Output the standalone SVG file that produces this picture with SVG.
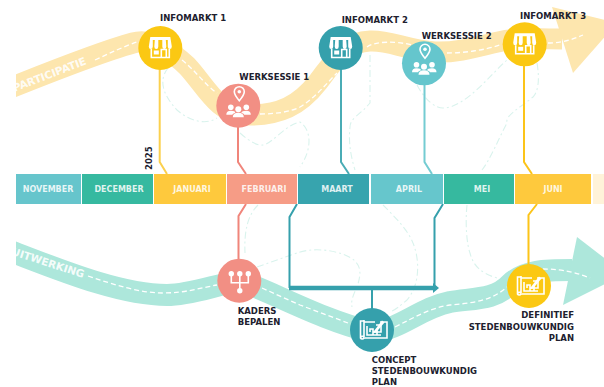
<svg xmlns="http://www.w3.org/2000/svg" xmlns:xlink="http://www.w3.org/1999/xlink" width="604" height="387" viewBox="0 0 604 387">
<style>
text{font-family:"DejaVu Sans",Verdana,sans-serif;font-weight:700}
.lb{font-size:8.5px;fill:#20202e}
.mo{font-size:8px;fill:#fff;fill-opacity:.85;text-anchor:middle}
.rb{font-size:10.5px;fill:#fff;fill-opacity:.9;text-anchor:end}
.bt{fill:none;stroke:#fde6ae;stroke-width:21}
.bb{fill:none;stroke:#ade7db;stroke-width:22}
.da{fill:none;stroke:#fff;stroke-width:1.3;stroke-dasharray:5 3}
.fa{fill:none;stroke:#d9f3ed;stroke-width:1.1;stroke-dasharray:7 3 2 3}
.cn{fill:none;stroke-width:2}
.ic{fill:none;stroke:#fff;stroke-width:1.6}
.if{fill:#fff}
</style>
<defs>
<clipPath id="cl"><rect x="16" y="0" width="588" height="387"/></clipPath>
<g id="store">
<path class="if" d="M-10,-11H10L11.500,-1.500Q11.500,1 9.500,1T7.500,-1.500V-8H5.500L6,-1.500Q6,1 4,1T2,-1.500V-8H-2V-1.500Q-2,1 -4,1T-6,-1.500L-5.500,-8H-7.500V-1.500Q-7.500,1 -9.500,1T-11.500,-1.500Z"/>
<path class="ic" d="M-9,1V9.500H9V1M1,9.500V1.500H6V9.500" stroke-width="2"/>
<rect class="if" x="-6.500" y="2.500" width="5" height="4"/>
</g>
<g id="people">
<path class="ic" stroke-width="1" d="M1,-5Q-4,-11 -4,-14A5,5 0 0 1 6,-14Q6,-11 1,-5Z"/>
<circle class="if" cx="1" cy="-14" r="1.800"/>
<circle class="if" cx="-7.500" cy="1.500" r="2.800"/><circle class="if" cx="8" cy="1.500" r="2.800"/><circle class="if" cx="0" cy="3.500" r="3"/>
<path class="if" d="M-12,9Q-12,5 -7.500,5T-3,7Q-6,8 -6,9ZM12.500,9Q12.500,5 8,5T3,7Q6,8 6,9ZM-5.500,11.500Q-5.500,7 0,7T5.500,11.500Z"/>
</g>
<g id="tree">
<circle class="if" cx="-8" cy="-7" r="2.700"/><circle class="if" cx="0.500" cy="-7" r="2.700"/><circle class="if" cx="9" cy="-7" r="2.700"/><circle class="if" cx="0.500" cy="10" r="2.700"/>
<path class="ic" stroke-width="1.300" d="M-8,-5V2H9V-5M0.500,-5V9"/>
</g>
<g id="plan">
<path class="ic" stroke-width="1.300" d="M-8,-10V7M-8,-9H-11.500V8A2,2 0 0 0 -8,8H15V-8H8M3,-8H-8M-8,7A2,2 0 0 0 -11.500,8"/>
<path class="ic" stroke-width="1.200" d="M-5,-4V5H1V-1H-2V2M1,2H9V-5H4M5,-1V5M9,5H1"/>
<path class="if" d="M2,1L10,-9.500L12.500,-7.500L4,2.500L1.500,3Z"/>
</g>
</defs>

<g id="ribbons" clip-path="url(#cl)">
<path class="bt" d="M10,88C50,72 100,52 133,43C150,38 170,50 187,66C205,85 218,114 245,115C280,116 300,105 318,82C335,60 345,42 370,41C390,40 405,50 435,52C465,53 490,42 510,40C530,38 545,39 562,39"/>
<polygon points="552,7 617,23 573,73" fill="#fde6ae"/>
<path class="bb" d="M10,251C60,270 120,295 167,295C190,295 215,285 239,281C265,288 320,320 372,332C400,330 420,308 450,302C475,298 495,300 510,284C525,270 545,270 572,270"/>
<polygon points="577,237 625,274 563,305" fill="#ade7db"/>
</g>
<g id="route-lines">
<path class="da" d="M95,60C110,53 125,46 137,42"/>
<path class="da" d="M182,60C195,70 205,85 217,93"/>
<path class="da" d="M260,114C275,114 290,112 300,107C315,98 325,85 337,73"/>
<path class="da" d="M367,47C375,41 395,41 413,45"/>
<path class="da" d="M447,53C465,53 485,50 500,45"/>
<path class="da" d="M548,43C560,43 572,40 583,35"/>
<path class="da" d="M88,276C115,285 140,293 163,293C185,293 200,288 217,285"/>
<path class="da" d="M262,288L300,305L348,323"/>
<path class="da" d="M395,327C415,317 430,308 450,305C470,303 490,302 507,287"/>
<path class="da" d="M543,269C555,269 570,270 590,278"/>
<path class="fa" d="M168,68C160,78 160,92 177,110C188,120 205,126 217,118"/>
<path class="fa" d="M240,133C250,142 258,146 263,145C272,144 285,125 300,122C312,130 312,150 300,167"/>
<path class="fa" d="M370,55V103C360,115 350,118 350,127C348,145 352,160 355,170"/>
<path class="fa" d="M417,85C425,100 435,108 443,108C465,108 490,75 507,60"/>
<path class="fa" d="M537,63C540,80 538,92 533,97C520,108 505,115 507,123C498,140 490,160 482,170"/>
<path class="fa" d="M258,205C248,215 244,230 245,253"/>
<path class="fa" d="M257,267L297,253C310,248 330,249 345,255C362,262 362,272 357,287C352,297 351,302 352,307"/>
<path class="fa" d="M383,205C395,217 408,230 413,243C420,260 420,285 407,300C400,306 395,310 390,312"/>
<path class="fa" d="M467,205C465,225 467,245 470,253C473,265 480,273 497,278"/>
</g>

<g id="connectors">
<path class="cn" stroke="#fbd04e" d="M159.700,68V162L167,174"/>
<path class="cn" stroke="#f0857b" d="M238,126V162L246,174"/>
<path class="cn" stroke="#4aacb5" d="M341,68V162L349,174"/>
<path class="cn" stroke="#74ccd2" d="M424.500,84V162L432,174"/>
<path class="cn" stroke="#fcc419" d="M524,64V162L532,174"/>
<path class="cn" stroke="#f0857b" d="M246,204L238.500,216V261"/>
<path class="cn" stroke="#35a0ac" d="M297,204L289.500,217V288"/>
<path class="cn" stroke="#35a0ac" d="M443,204L434.500,218V288"/>
<path fill="none" stroke="#35a0ac" stroke-width="4.500" d="M289,288H434"/>
<polygon points="433,283 439,288 433,293" fill="#35a0ac"/>
<path class="cn" stroke="#35a0ac" d="M372,288V310"/>
<path class="cn" stroke="#fcc419" d="M537,204L528.500,215V265"/>
</g>

<g id="timeline">
<rect x="16" y="174" width="65" height="30" fill="#66c5cc"/>
<rect x="82" y="174" width="71" height="30" fill="#36b9a0"/>
<rect x="154" y="174" width="72" height="30" fill="#fec93d"/>
<rect x="227" y="174" width="70" height="30" fill="#f69c86"/>
<rect x="298" y="174" width="71" height="30" fill="#37a4ae"/>
<rect x="371" y="174" width="72" height="30" fill="#66c6cc"/>
<rect x="444" y="174" width="70" height="30" fill="#36b99f"/>
<rect x="515" y="174" width="76" height="30" fill="#fec93d"/>
<rect x="593" y="174" width="11" height="30" fill="#fff3d9"/>
<text class="mo" x="48" y="192">NOVEMBER</text>
<text class="mo" x="119" y="192">DECEMBER</text>
<text class="mo" x="192" y="192">JANUARI</text>
<text class="mo" x="264" y="192">FEBRUARI</text>
<text class="mo" x="337" y="192">MAART</text>
<text class="mo" x="409" y="192">APRIL</text>
<text class="mo" x="482" y="192">MEI</text>
<text class="mo" x="553" y="192">JUNI</text>
<text class="lb" transform="translate(152,170) rotate(-90)">2025</text>
</g>

<g clip-path="url(#cl)">
<text class="rb" transform="translate(87,64) rotate(-21)">PARTICIPATIE</text>
<text class="rb" transform="translate(83,278) rotate(18)">UITWERKING</text>
</g>

<g id="infomarkt-1"><circle cx="160.300" cy="48" r="22" fill="#fbc813"/><use href="#store" x="160.300" y="48"/><text class="lb" x="160" y="21">INFOMARKT 1</text></g>
<g id="werksessie-1"><circle cx="238.300" cy="105.700" r="22" fill="#f28f84"/><use href="#people" x="238.300" y="105.700"/><text class="lb" x="239.300" y="80">WERKSESSIE 1</text></g>
<g id="infomarkt-2"><circle cx="340.700" cy="48" r="22" fill="#35a0ac"/><use href="#store" x="340.700" y="48"/><text class="lb" x="341.700" y="22.700">INFOMARKT 2</text></g>
<g id="werksessie-2"><circle cx="424" cy="63.300" r="22" fill="#65c6cd"/><use href="#people" x="424" y="63.300"/><text class="lb" x="421.700" y="39">WERKSESSIE 2</text></g>
<g id="infomarkt-3"><circle cx="524.700" cy="44.300" r="22" fill="#fbc813"/><use href="#store" x="524.700" y="44.300"/><text class="lb" x="520" y="19">INFOMARKT 3</text></g>
<g id="kaders"><circle cx="239.300" cy="280.700" r="22" fill="#f28f84"/><use href="#tree" x="239.300" y="280.700"/><text class="lb" x="237.700" y="314">KADERS</text><text class="lb" x="237.700" y="325">BEPALEN</text></g>
<g id="concept"><circle cx="372" cy="330" r="22" fill="#35a0ac"/><use href="#plan" x="372" y="330"/><text class="lb" x="371.700" y="362.700">CONCEPT</text><text class="lb" x="371.700" y="374">STEDENBOUWKUNDIG</text><text class="lb" x="371.700" y="385">PLAN</text></g>
<g id="definitief"><circle cx="529" cy="286" r="22" fill="#fbc813"/><use href="#plan" x="529" y="286"/><text class="lb" text-anchor="end" x="574" y="318">DEFINITIEF</text><text class="lb" text-anchor="end" x="574" y="329.500">STEDENBOUWKUNDIG</text><text class="lb" text-anchor="end" x="574" y="341">PLAN</text></g>
</svg>
